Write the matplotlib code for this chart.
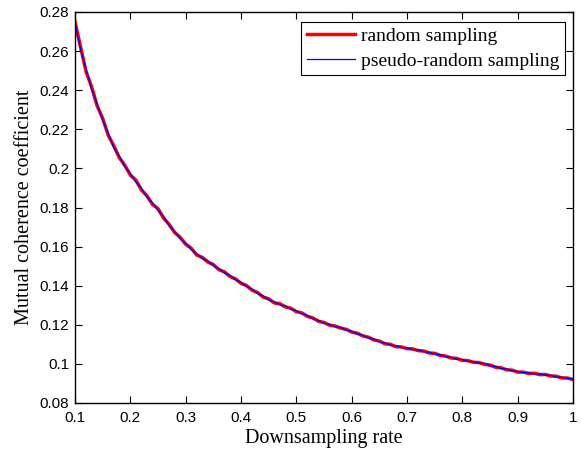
import numpy as np
import matplotlib
matplotlib.use("Agg")
import matplotlib.pyplot as plt

# Downsampling rates (x grid, step 0.01)
rates = [round(0.10 + 0.01 * i, 2) for i in range(91)]

random_sampling = [
    0.2750, 0.2622, 0.2495, 0.2418, 0.2320, 0.2256, 0.2170, 0.2116, 0.2055, 0.2016,
    0.1966, 0.1940, 0.1890, 0.1860, 0.1816, 0.1794, 0.1746, 0.1714, 0.1672, 0.1648,
    0.1612, 0.1592, 0.1557, 0.1545, 0.1521, 0.1508, 0.1482, 0.1471, 0.1447, 0.1435,
    0.1412, 0.1401, 0.1377, 0.1365, 0.1342, 0.1333, 0.1312, 0.1308, 0.1292, 0.1285,
    0.1267, 0.1261, 0.1243, 0.1235, 0.1218, 0.1212, 0.1198, 0.1194, 0.1183, 0.1177,
    0.1163, 0.1157, 0.1143, 0.1137, 0.1123, 0.1117, 0.1103, 0.1100, 0.1088, 0.1087,
    0.1078, 0.1077, 0.1068, 0.1066, 0.1056, 0.1054, 0.1043, 0.1040, 0.1030, 0.1028,
    0.1018, 0.1017, 0.1008, 0.1007, 0.0998, 0.0994, 0.0983, 0.0980, 0.0970, 0.0968,
    0.0958, 0.0958, 0.0951, 0.0952, 0.0945, 0.0946, 0.0938, 0.0937, 0.0928, 0.0928,
    0.0920,
]

pseudo_random_sampling = [
    0.2742, 0.2610, 0.2508, 0.2405, 0.2330, 0.2246, 0.2180, 0.2106, 0.2064, 0.2008,
    0.1974, 0.1930, 0.1899, 0.1852, 0.1824, 0.1786, 0.1755, 0.1708, 0.1678, 0.1641,
    0.1618, 0.1585, 0.1563, 0.1539, 0.1528, 0.1502, 0.1488, 0.1465, 0.1453, 0.1430,
    0.1418, 0.1395, 0.1383, 0.1360, 0.1348, 0.1327, 0.1318, 0.1302, 0.1297, 0.1280,
    0.1272, 0.1256, 0.1248, 0.1230, 0.1223, 0.1208, 0.1202, 0.1190, 0.1187, 0.1173,
    0.1167, 0.1153, 0.1147, 0.1133, 0.1127, 0.1113, 0.1107, 0.1096, 0.1092, 0.1083,
    0.1082, 0.1073, 0.1072, 0.1062, 0.1060, 0.1050, 0.1047, 0.1036, 0.1034, 0.1024,
    0.1022, 0.1013, 0.1012, 0.1003, 0.1002, 0.0990, 0.0987, 0.0976, 0.0974, 0.0964,
    0.0962, 0.0955, 0.0955, 0.0948, 0.0949, 0.0942, 0.0942, 0.0933, 0.0932, 0.0925,
    0.0923,
]

xticks = [0.1, 0.2, 0.3, 0.4, 0.5, 0.6, 0.7, 0.8, 0.9, 1]
xticklabels = ["0.1", "0.2", "0.3", "0.4", "0.5", "0.6", "0.7", "0.8", "0.9", "1"]
yticks = [0.08, 0.10, 0.12, 0.14, 0.16, 0.18, 0.20, 0.22, 0.24, 0.26, 0.28]
yticklabels = ["0.08", "0.1", "0.12", "0.14", "0.16", "0.18", "0.2", "0.22", "0.24", "0.26", "0.28"]

fig = plt.figure(figsize=(5.82, 4.51), dpi=100)
ax = fig.add_axes([75 / 582, 48 / 451, 498 / 582, 391 / 451])

ax.plot(rates, random_sampling, color="red", lw=2.5, label="random sampling")
ax.plot(rates, pseudo_random_sampling, color="blue", lw=0.9, label="pseudo-random sampling")

ax.set_xlim(0.1, 1)
ax.set_ylim(0.08, 0.28)
ax.set_xticks(xticks)
ax.set_xticklabels(xticklabels, family="Liberation Sans", fontsize=11)
ax.set_yticks(yticks)
ax.set_yticklabels(yticklabels, family="Liberation Sans", fontsize=11)
ax.tick_params(direction="in", length=5, width=0.8, top=True, right=True)
ax.tick_params(axis="x", pad=6)
ax.tick_params(axis="y", pad=4)
for s in ax.spines.values():
    s.set_linewidth(1.0)

ax.set_xlabel("Downsampling rate", family="Liberation Serif", fontsize=14.5, labelpad=3)
ax.set_ylabel("Mutual coherence coefficient", family="Liberation Serif", fontsize=14.5, labelpad=4)

leg = ax.legend(loc="upper right", bbox_to_anchor=(1, 0.995),
                prop={"family": "Liberation Serif", "size": 14},
                frameon=True, fancybox=False, edgecolor="black", framealpha=1,
                borderaxespad=0.4, handlelength=2.5, handletextpad=0.3,
                labelspacing=0.35, borderpad=0.3)
leg.get_frame().set_linewidth(0.8)

fig.savefig("out.png", dpi=100)
